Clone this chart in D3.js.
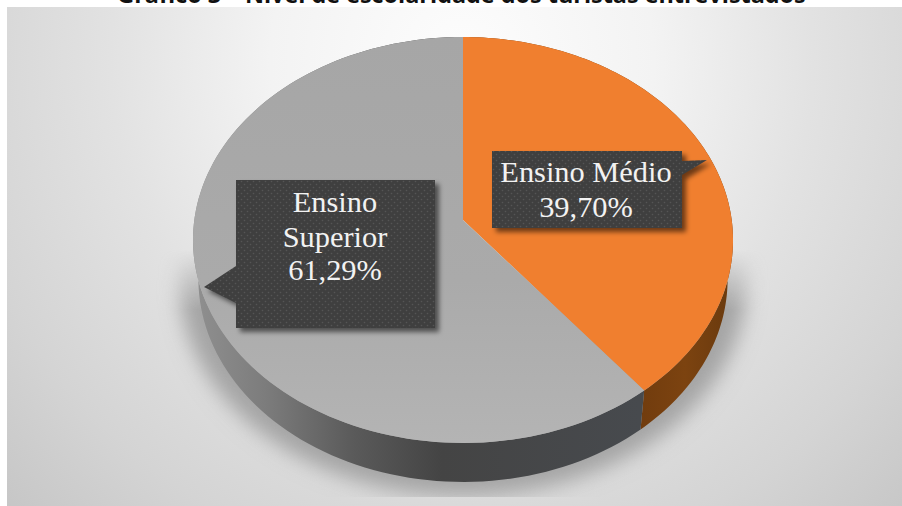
<!DOCTYPE html>
<html lang="pt">
<head>
<meta charset="utf-8">
<title>Nível de escolaridade dos turistas entrevistados</title>
<script src="https://cdn.jsdelivr.net/npm/d3@7/dist/d3.min.js"></script>
<style>
  html, body { margin: 0; padding: 0; background: #fff; }
  svg { display: block; }
</style>
</head>
<body>
<svg id="chart" width="902" height="506"></svg>
<script>
// Survey results
const chartTitle = "Gráfico 3 – Nível de escolaridade dos turistas entrevistados";
const categories = ["Ensino Médio", "Ensino Superior"];
const shares = [39.70, 61.29];
const sliceColors = ["#f07f2f", "url(#topGray)"];
const wallColors = ["url(#wallBrown)", "url(#wallGray)"];

// Callout layout: text lines, box and pointer
const callouts = [
  { lines: ["Ensino Médio", "39,70%"], box: [492, 151, 190, 77], tip: [707, 160], base: [[682, 161], [682, 175]], cx: 586, y: [182, 217] },
  { lines: ["Ensino", "Superior", "61,29%"], box: [236, 180, 199, 148], tip: [204, 287], base: [[236, 303], [236, 266]], cx: 335, y: [212, 247, 280] }
];

const W = 902, H = 506;
const svg = d3.select("#chart");
const defs = svg.append("defs");

// Backdrop, shadow and wall fills
const bg = defs.append("radialGradient").attr("id", "backdrop")
  .attr("gradientUnits", "userSpaceOnUse")
  .attr("cx", 462).attr("cy", 60).attr("r", 640);
[[0, "#fdfdfd"], [0.3, "#f3f3f3"], [0.55, "#e2e2e2"], [0.8, "#d4d4d4"], [1, "#c6c6c6"]]
  .forEach(([o, c]) => bg.append("stop").attr("offset", o).attr("stop-color", c));

function linear(id, attrs, stops) {
  const g = defs.append("linearGradient").attr("id", id).attr("gradientUnits", "userSpaceOnUse");
  Object.entries(attrs).forEach(([k, v]) => g.attr(k, v));
  stops.forEach(([o, c]) => g.append("stop").attr("offset", o).attr("stop-color", c));
}
linear("topGray", { x1: 0, y1: 37, x2: 0, y2: 443 }, [[0, "#a6a6a6"], [0.6, "#aaaaaa"], [1, "#b4b4b4"]]);
linear("wallGray", { x1: 200, y1: 0, x2: 640, y2: 0 }, [[0, "#8e8e8e"], [0.15, "#7c7c7c"], [0.35, "#5a5a5a"], [0.55, "#444444"], [1, "#474a4e"]]);
linear("wallBrown", { x1: 640, y1: 0, x2: 730, y2: 0 }, [[0, "#713c0e"], [0.5, "#7c4310"], [1, "#6a3a0e"]]);
linear("shadowFade", { x1: 0, y1: 250, x2: 0, y2: 310 }, [[0, "#000"], [1, "#fff"]]);

defs.append("filter").attr("id", "softShadow")
  .attr("x", "-20%").attr("y", "-20%").attr("width", "140%").attr("height", "140%")
  .append("feGaussianBlur").attr("stdDeviation", 10);
defs.append("filter").attr("id", "boxShadow")
  .attr("x", "-10%").attr("y", "-10%").attr("width", "120%").attr("height", "120%")
  .append("feGaussianBlur").attr("stdDeviation", 2.5);
defs.append("mask").attr("id", "shadowBand").attr("maskUnits", "userSpaceOnUse")
  .attr("x", 0).attr("y", 0).attr("width", W).attr("height", H)
  .append("rect").attr("x", 7).attr("y", 250).attr("width", W - 7).attr("height", 247)
  .attr("fill", "url(#shadowFade)");

const dots = defs.append("pattern").attr("id", "dotted")
  .attr("patternUnits", "userSpaceOnUse").attr("width", 6).attr("height", 6);
dots.append("rect").attr("width", 6).attr("height", 6).attr("fill", "#3f3f3f");
dots.append("circle").attr("cx", 1.5).attr("cy", 1.5).attr("r", 0.8).attr("fill", "#555555");
dots.append("circle").attr("cx", 4.5).attr("cy", 4.5).attr("r", 0.8).attr("fill", "#555555");

// Perspective projection of the pie disk onto the page
const disk = { cx: 463, cy: 220, sx: 268.7, sy: 201, k: -0.0985 };
function rim(angle, scaleX = 1, scaleY = 1, dy = 0) {
  const u = Math.sin(angle), v = -Math.cos(angle);
  const w = 1 + disk.k * v;
  return [disk.cx + disk.sx * scaleX * u / w, disk.cy + dy + disk.sy * scaleY * v / w];
}
const arcPoints = (a0, a1, ...rest) =>
  d3.range(0, 121).map(i => rim(a0 + (a1 - a0) * i / 120, ...rest));
const line = d3.line();

const pie = d3.pie().sort(null).startAngle(0).endAngle(2 * Math.PI);
const slices = pie(shares);
const wallDepth = 39, lowerScale = 0.98;

// Page backdrop and the title line cut by its upper edge
svg.append("rect").attr("x", 7).attr("y", 7).attr("width", W - 7).attr("height", H - 7)
  .attr("fill", "url(#backdrop)");
svg.append("text").text(chartTitle)
  .attr("x", 461.5).attr("y", 2.5).attr("text-anchor", "middle")
  .attr("font-family", "'Open Sans', sans-serif").attr("font-weight", 700).attr("font-size", 23.4)
  .attr("fill", "#111");

// Ground shadow
svg.append("g").attr("mask", "url(#shadowBand)")
  .append("path")
  .attr("d", line(arcPoints(0, 2 * Math.PI, 1.05, 1.05, 42)) + "Z")
  .attr("fill", "#a4a4a4")
  .attr("filter", "url(#softShadow)");

// Side walls, then the top faces over them
svg.append("g").selectAll("path").data(slices).join("path")
  .attr("d", d => {
    const upper = arcPoints(d.startAngle, d.endAngle);
    const lower = arcPoints(d.startAngle, d.endAngle, lowerScale, 1, wallDepth).reverse();
    return line(upper.concat(lower)) + "Z";
  })
  .attr("fill", (d, i) => wallColors[i]);

svg.append("g").selectAll("path").data(slices).join("path")
  .attr("d", d => line([[disk.cx, disk.cy], ...arcPoints(d.startAngle, d.endAngle)]) + "Z")
  .attr("fill", (d, i) => sliceColors[i]);

// Data callouts
const calloutOutline = c => {
  const [x, y, w, h] = c.box;
  return line([[x, y], [x + w, y], [x + w, y + h], [x, y + h]]) + "Z" + line([c.base[0], c.tip, c.base[1]]) + "Z";
};
const groups = svg.append("g").selectAll("g").data(callouts).join("g");
groups.append("path").attr("d", calloutOutline)
  .attr("transform", "translate(4,4)")
  .attr("fill", "#000").attr("fill-opacity", 0.55)
  .attr("filter", "url(#boxShadow)");
groups.append("path").attr("d", calloutOutline).attr("fill", "url(#dotted)");
groups.each(function (c) {
  d3.select(this).selectAll("text").data(c.lines).join("text")
    .text(t => t)
    .attr("x", c.cx)
    .attr("y", (t, i) => c.y[i])
    .attr("text-anchor", "middle")
    .attr("font-family", "'Liberation Serif', serif")
    .attr("font-size", 30.4)
    .attr("fill", "#f2f2f2");
});
</script>
</body>
</html>
